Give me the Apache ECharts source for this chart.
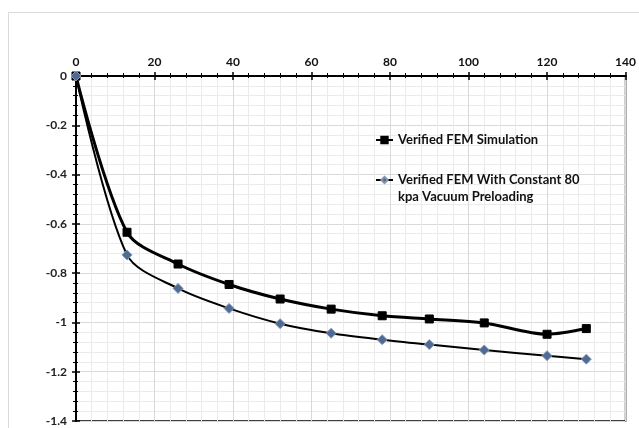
<!DOCTYPE html>
<html>
<head>
<meta charset="utf-8">
<script src="https://cdn.jsdelivr.net/npm/echarts@6/dist/echarts.min.js"></script>
<style>
  html, body { margin: 0; padding: 0; background: #fff; }
  #chart { width: 639px; height: 428px; }
</style>
</head>
<body>
<div id="chart"></div>
<script>
// Elapsed time (x) and settlement (y) for each model
const timeFEM = [0, 13, 26, 39, 52, 65, 78, 90, 104, 120, 130];
const settlementFEM = [0, -0.634, -0.763, -0.846, -0.905, -0.946, -0.973, -0.986, -1.002, -1.048, -1.025];

const timeVacuum = [0, 13, 26, 39, 52, 65, 78, 90, 104, 120, 130];
const settlementVacuum = [0, -0.726, -0.862, -0.943, -1.005, -1.044, -1.070, -1.090, -1.112, -1.135, -1.149];

const nameFEM = 'Verified FEM Simulation';
const nameVacuum = 'Verified FEM With Constant 80 kpa Vacuum Preloading';
const nameVacuumLines = ['Verified FEM With Constant 80', 'kpa Vacuum Preloading'];

const xMin = 0, xMax = 140, xStep = 20;
const yMin = -1.4, yMax = 0, yStep = 0.2;

const pairs = (xs, ys) => xs.map((x, i) => [x, ys[i]]);

const fontFamily = 'Lato, "Liberation Sans", sans-serif';
const gridMajor = '#d9d9d9';
const gridMinor = '#ebebeb';

const chart = echarts.init(document.getElementById('chart'), null, { renderer: 'canvas' });

const baseX = {
  type: 'value', min: xMin, max: xMax, interval: xStep, position: 'top',
  axisLine: { onZero: false, lineStyle: { color: '#000', width: 2 } }
};
const baseY = {
  type: 'value', min: yMin, max: yMax, interval: yStep, position: 'left',
  axisLine: { onZero: false, lineStyle: { color: '#000', width: 2 } }
};

chart.setOption({
  animation: false,
  backgroundColor: '#fff',
  graphic: [{
    type: 'rect', silent: true, z: -10,
    shape: { x: 8.5, y: 12.5, width: 700, height: 500 },
    style: { fill: 'none', stroke: '#d9d9d9', lineWidth: 1 }
  }],
  grid: {
    left: 76, top: 76, right: 9, bottom: 7,
    show: true, borderColor: '#000', borderWidth: 1.5, backgroundColor: 'transparent'
  },
  xAxis: [
    Object.assign({}, baseX, {
      axisTick: { show: true, inside: false, length: 4, lineStyle: { color: '#000', width: 1.5 } },
      minorTick: { show: true, splitNumber: 5, length: 3, lineStyle: { color: '#000', width: 1 } },
      axisLabel: { color: '#111', fontFamily, fontWeight: 'bold', fontSize: 12, margin: 8 },
      splitLine: { show: true, lineStyle: { color: gridMajor, width: 1 } },
      minorSplitLine: { show: true, lineStyle: { color: gridMinor, width: 1 } }
    }),
    Object.assign({}, baseX, {
      axisTick: { show: true, inside: true, length: 4, lineStyle: { color: '#000', width: 1.5 } },
      minorTick: { show: true, splitNumber: 5, length: 2, lineStyle: { color: '#000', width: 1 } },
      axisLabel: { show: false },
      splitLine: { show: false }
    })
  ],
  yAxis: [
    Object.assign({}, baseY, {
      axisTick: { show: true, inside: false, length: 4, lineStyle: { color: '#000', width: 1.5 } },
      minorTick: { show: true, splitNumber: 5, length: 3, lineStyle: { color: '#000', width: 1 } },
      axisLabel: { color: '#222', fontFamily, fontWeight: 'bold', fontSize: 12, margin: 9 },
      splitLine: { show: true, lineStyle: { color: gridMajor, width: 1 } },
      minorSplitLine: { show: true, lineStyle: { color: gridMinor, width: 1 } }
    }),
    Object.assign({}, baseY, {
      axisTick: { show: true, inside: true, length: 4, lineStyle: { color: '#000', width: 1.5 } },
      minorTick: { show: true, splitNumber: 5, length: 2, lineStyle: { color: '#000', width: 1 } },
      axisLabel: { show: false },
      splitLine: { show: false }
    })
  ],
  legend: [
    {
      data: [nameFEM], orient: 'vertical', left: 375, top: 131.5, padding: 0,
      itemWidth: 17, itemHeight: 8,
      textStyle: { color: '#111', fontFamily, fontWeight: 'bold', fontSize: 13, lineHeight: 17 }
    },
    {
      data: [nameVacuum], orient: 'vertical', left: 375, top: 154.5, padding: 0,
      itemWidth: 17, itemHeight: 8,
      formatter: () => ' \n' + nameVacuumLines.join('\n'),
      textStyle: { color: '#111', fontFamily, fontWeight: 'bold', fontSize: 13, lineHeight: 17 }
    }
  ],
  series: [
    {
      name: nameFEM, type: 'line', xAxisIndex: 0, yAxisIndex: 0,
      data: pairs(timeFEM, settlementFEM),
      smooth: 0.3,
      symbol: 'rect', symbolSize: 8,
      lineStyle: { color: '#000', width: 3 },
      itemStyle: { color: '#000', borderColor: '#000', borderWidth: 1 },
      z: 3
    },
    {
      name: nameVacuum, type: 'line', xAxisIndex: 0, yAxisIndex: 0,
      data: pairs(timeVacuum, settlementVacuum),
      smooth: 0.3,
      symbol: 'diamond', symbolSize: 10,
      lineStyle: { color: '#000', width: 2 },
      itemStyle: { color: '#4d6b94', borderColor: '#8797ae', borderWidth: 1 },
      z: 4
    }
  ]
});
</script>
</body>
</html>
